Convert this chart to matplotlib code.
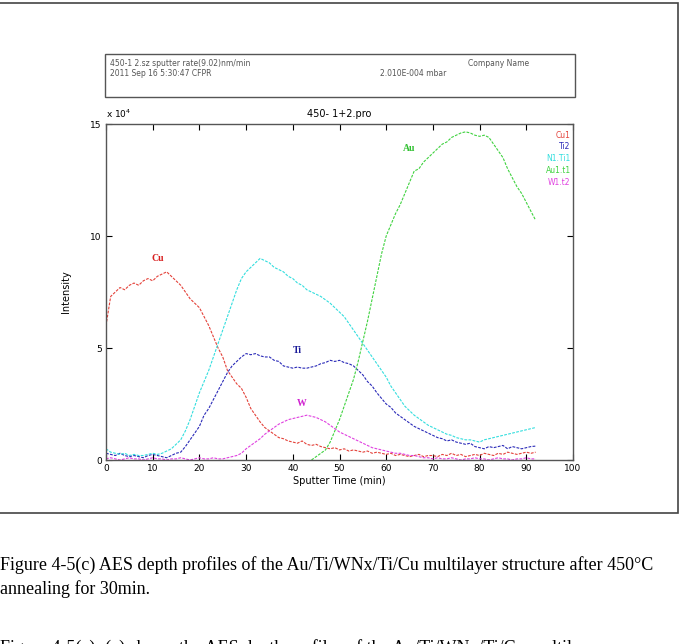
"""
AES depth profile, Au/Ti/WNx/Ti/Cu after 450 C anneal (scanned report page).
Intensities are in units of 1e4 counts, one value per minute of sputtering.
"""
import matplotlib
matplotlib.use("Agg")
import matplotlib.pyplot as plt
from matplotlib.patches import Rectangle

OUT_PNG = "out.png"

# ---- data (x 10^4) -------------------------------------------------------
t_min = list(range(0, 93))                     # 0 .. 92 min
au_t  = list(range(44, 93))                    # Au only appears after ~44 min

cu = [6.0, 7.3, 7.5, 7.7, 7.6, 7.8, 7.9, 7.8, 8.0, 8.1,
      8.0, 8.2, 8.3, 8.4, 8.2, 8.0, 7.8, 7.5, 7.2, 7.0,
      6.8, 6.4, 6.0, 5.5, 5.0, 4.6, 4.0, 3.7, 3.4, 3.2,
      2.8, 2.3, 2.0, 1.7, 1.45, 1.3, 1.15, 1.0, 0.95, 0.85,
      0.8, 0.75, 0.85, 0.7, 0.65, 0.7, 0.6, 0.55, 0.5, 0.55,
      0.45, 0.5, 0.4, 0.45, 0.4, 0.35, 0.4, 0.3, 0.35, 0.3,
      0.25, 0.3, 0.2, 0.25, 0.2, 0.15, 0.2, 0.25, 0.15, 0.2,
      0.2, 0.15, 0.25, 0.2, 0.3, 0.2, 0.25, 0.15, 0.2, 0.25,
      0.2, 0.3, 0.25, 0.2, 0.3, 0.25, 0.35, 0.3, 0.25, 0.3,
      0.35, 0.3, 0.35]

ti = [0.3, 0.25, 0.2, 0.3, 0.2, 0.15, 0.2, 0.15, 0.1, 0.2,
      0.25, 0.2, 0.15, 0.1, 0.2, 0.3, 0.35, 0.6, 0.9, 1.2,
      1.5, 2.0, 2.3, 2.7, 3.1, 3.5, 3.9, 4.2, 4.4, 4.6,
      4.75, 4.7, 4.75, 4.65, 4.6, 4.6, 4.45, 4.4, 4.2, 4.15,
      4.1, 4.15, 4.1, 4.1, 4.15, 4.2, 4.3, 4.35, 4.45, 4.4,
      4.45, 4.35, 4.3, 4.2, 4.0, 3.8, 3.5, 3.3, 3.0, 2.75,
      2.5, 2.35, 2.1, 1.95, 1.8, 1.65, 1.5, 1.4, 1.3, 1.2,
      1.1, 1.0, 0.95, 0.85, 0.9, 0.8, 0.75, 0.7, 0.75, 0.6,
      0.55, 0.5, 0.6, 0.55, 0.6, 0.65, 0.5, 0.6, 0.55, 0.5,
      0.55, 0.6, 0.62]

tin = [0.5, 0.35, 0.3, 0.25, 0.3, 0.2, 0.25, 0.2, 0.2, 0.25,
       0.3, 0.25, 0.3, 0.4, 0.5, 0.7, 0.9, 1.3, 1.8, 2.4,
       3.0, 3.5, 4.0, 4.6, 5.2, 5.8, 6.4, 7.0, 7.6, 8.1,
       8.4, 8.6, 8.8, 9.0, 8.9, 8.8, 8.6, 8.5, 8.4, 8.2,
       8.1, 7.9, 7.8, 7.6, 7.5, 7.4, 7.3, 7.15, 7.0, 6.8,
       6.6, 6.4, 6.1, 5.8, 5.5, 5.2, 4.9, 4.6, 4.3, 4.0,
       3.7, 3.3, 3.0, 2.7, 2.4, 2.2, 2.0, 1.85, 1.7, 1.55,
       1.45, 1.35, 1.25, 1.15, 1.1, 1.0, 0.95, 0.9, 0.9, 0.85,
       0.8, 0.9, 0.95, 1.0, 1.05, 1.1, 1.15, 1.2, 1.25, 1.3,
       1.35, 1.4, 1.45]

w = [0.05, 0.1, 0.05, 0.0, 0.05, 0.1, 0.05, 0.05, 0.0, 0.05,
     0.1, 0.05, 0.05, 0.0, 0.05, 0.05, 0.1, 0.05, 0.0, 0.05,
     0.1, 0.05, 0.05, 0.1, 0.05, 0.05, 0.1, 0.15, 0.2, 0.3,
     0.5, 0.65, 0.8, 0.95, 1.15, 1.3, 1.45, 1.6, 1.7, 1.8,
     1.85, 1.9, 1.95, 2.0, 1.95, 1.9, 1.8, 1.7, 1.55, 1.4,
     1.25, 1.15, 1.05, 0.95, 0.85, 0.75, 0.65, 0.55, 0.5, 0.45,
     0.4, 0.35, 0.3, 0.3, 0.25, 0.2, 0.2, 0.15, 0.1, 0.1,
     0.05, 0.1, 0.05, 0.05, 0.1, 0.05, 0.0, 0.05, 0.05, 0.1,
     0.05, 0.05, 0.0, 0.05, 0.1, 0.05, 0.05, 0.0, 0.05, 0.05,
     0.1, 0.05, 0.05]

au = [0.0, 0.15, 0.3, 0.45, 0.8, 1.3, 1.8, 2.4, 3.0, 3.6,
      4.4, 5.3, 6.2, 7.2, 8.2, 9.2, 10.0, 10.5, 11.0, 11.4,
      11.9, 12.4, 12.9, 13.0, 13.3, 13.5, 13.7, 13.9, 14.1, 14.2,
      14.4, 14.5, 14.6, 14.65, 14.6, 14.5, 14.45, 14.5, 14.4, 14.1,
      13.8, 13.5, 13.0, 12.6, 12.2, 11.9, 11.5, 11.1, 10.7]

legend_names = ["Cu1", "Ti2", "N1.Ti1", "Au1.t1", "W1.t2"]
colors       = ["#e4423a", "#2a2ab8", "#33dede", "#3fd23f", "#e040e0"]

# ---- figure ---------------------------------------------------------------
W_PX, H_PX = 682, 644
fig = plt.figure(figsize=(W_PX / 100, H_PX / 100), dpi=100)
fig.patch.set_facecolor("white")

def fx(px):  # pixel -> figure fraction
    return px / W_PX

def fy(py):
    return 1 - py / H_PX

# page frame and header box of the instrument printout
fig.add_artist(Rectangle((fx(-5), fy(513)), fx(683), fy(3) - fy(513),
                         transform=fig.transFigure, fill=False,
                         edgecolor="#444444", linewidth=1.2))
fig.add_artist(Rectangle((fx(105), fy(97)), fx(575 - 105), fy(54) - fy(97),
                         transform=fig.transFigure, fill=False,
                         edgecolor="#555555", linewidth=1.0))
hdr = dict(fontsize=5.5, color="#555555", family="DejaVu Sans")
fig.text(fx(110), fy(63), "450-1 2.sz sputter rate(9.02)nm/min", va="center", **hdr)
fig.text(fx(110), fy(74), "2011 Sep 16 5:30:47 CFPR", va="center", **hdr)
fig.text(fx(468), fy(63), "Company Name", va="center", **hdr)
fig.text(fx(380), fy(74), "2.010E-004 mbar", va="center", **hdr)

ax = fig.add_axes([fx(106), fy(460), fx(573 - 106), fy(124) - fy(460)])
ls = (0, (2.5, 1.2))
ax.plot(t_min, cu,  color=colors[0], lw=0.8, ls=ls)
ax.plot(t_min, ti,  color=colors[1], lw=0.8, ls=ls)
ax.plot(t_min, tin, color=colors[2], lw=0.8, ls=ls)
ax.plot(au_t,  au,  color=colors[3], lw=0.8, ls=ls)
ax.plot(t_min, w,   color=colors[4], lw=0.8, ls=ls)

ax.set_xlim(0, 100)
ax.set_ylim(0, 15)
ax.set_xticks(range(0, 101, 10))
ax.set_yticks([0, 5, 10, 15])
ax.tick_params(direction="in", length=4, width=0.8, labelsize=6.5,
               top=True, right=True, pad=3)
for sp in ax.spines.values():
    sp.set_color("#555555")
    sp.set_linewidth(1.0)
ax.set_xlabel("Sputter Time (min)", fontsize=7, labelpad=2)
ax.set_ylabel("Intensity", fontsize=7, labelpad=14)
ax.set_title("450- 1+2.pro", fontsize=7, pad=5)
ax.text(0.0, 1.012, "x 10$^4$", transform=ax.transAxes, fontsize=6.5,
        ha="left", va="bottom")

# element labels in the plot
lab = dict(fontsize=7, family="Liberation Serif", fontweight="bold",
           ha="center", va="center")
ax.text(11, 9.0, "Cu", color="#d82020", **lab)
ax.text(41, 4.9, "Ti", color="#1a1a99", **lab)
ax.text(42, 2.5, "W",  color="#d020d0", **lab)
ax.text(65, 13.9, "Au", color="#30c030", **lab)

# right-hand key
for i, (name, col) in enumerate(zip(legend_names, colors)):
    ax.text(0.995, 0.967 - i * 0.035, name, color=col, fontsize=5.5,
            transform=ax.transAxes, ha="right", va="center")

# caption of the thesis page
cap = dict(family="Liberation Serif", fontsize=13, color="black", va="center")
fig.text(fx(0), fy(565),
         "Figure 4-5(c) AES depth profiles of the Au/Ti/WNx/Ti/Cu multilayer structure after 450\u00b0C",
         **cap)
fig.text(fx(0), fy(589), "annealing for 30min.", **cap)
fig.text(fx(0), fy(648),
         "Figure 4-5(a)~(c) shows the AES depth profiles of the Au/Ti/WNx/Ti/Cu multilayer",
         **cap)

fig.savefig(OUT_PNG, dpi=100)
